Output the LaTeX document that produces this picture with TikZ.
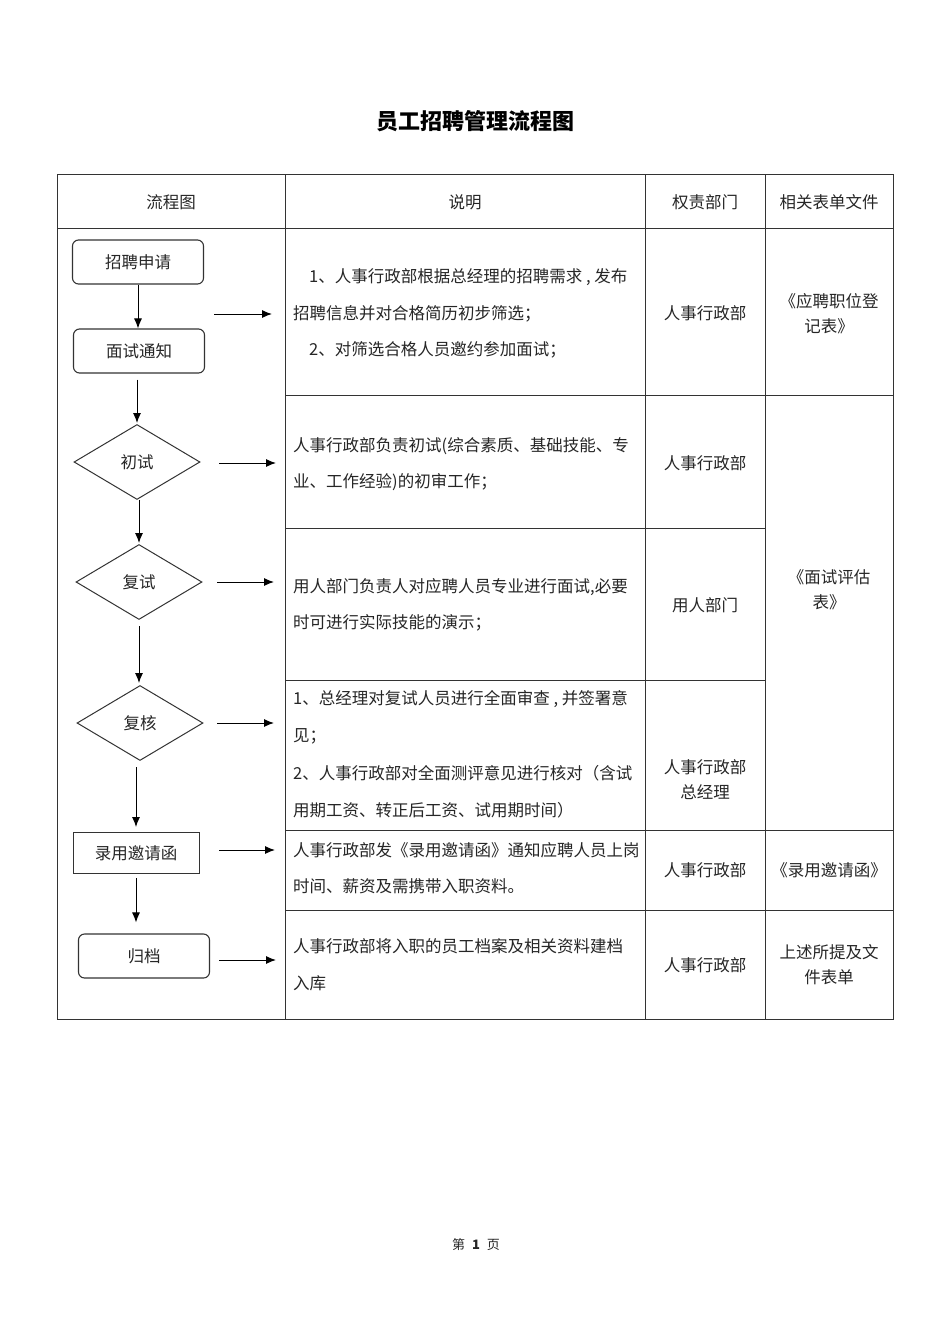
\documentclass[tikz,border=0pt]{standalone}
\usepackage{fontspec}
\setmainfont{Noto Sans CJK SC}
\usetikzlibrary{arrows.meta,shapes.geometric}
\newcommand\bodyfs{\fontsize{16.5pt}{25pt}\selectfont}
\begin{document}
\begin{tikzpicture}[x=1pt,y=-1pt,
  grid/.style={line width=0.9pt, draw=black!80},
  rbox/.style={draw=black!80, line width=1.1pt, rounded corners=6pt, minimum width=131pt, minimum height=44pt, inner sep=0, font=\bodyfs, text=black!85},
  sbox/.style={draw=black!80, line width=1pt, minimum width=126pt, minimum height=41pt, inner sep=0, font=\bodyfs, text=black!85},
  dia/.style={draw=black!80, line width=1pt, diamond, minimum width=126pt, minimum height=75pt, inner sep=0, font=\bodyfs, text=black!85},
  arr/.style={line width=1pt, draw=black, -{Latex[length=10pt,width=8pt]}},
  txt/.style={anchor=west, inner sep=0, font=\bodyfs, text=black!85},
  ctxt/.style={inner sep=0, font=\bodyfs, text=black!85, align=center},
]
\useasboundingbox (0,0) rectangle (950,1344);
\fill[white] (0,0) rectangle (950,1344);

% title and footer
\node[inner sep=0, font=\fontsize{22pt}{24pt}\selectfont\bfseries] (title) at (475,121) {员工招聘管理流程图};
\node[inner sep=0, font=\fontsize{13pt}{15pt}\selectfont, text=black!85] (foot) at (476,1245) {第\hspace{7pt}\textbf{1}\hspace{7pt}页};

% table grid
\draw[grid] (57,174) rectangle (893,1019);
\draw[grid] (285,174) -- (285,1019);
\draw[grid] (645,174) -- (645,1019);
\draw[grid] (765,174) -- (765,1019);
\draw[grid] (57,228) -- (893,228);
\draw[grid] (285,395) -- (893,395);
\draw[grid] (285,528) -- (765,528);
\draw[grid] (285,680) -- (765,680);
\draw[grid] (285,830) -- (893,830);
\draw[grid] (285,910) -- (893,910);

% header
\node[ctxt] (h1) at (171,202) {流程图};
\node[ctxt] (h2) at (465,202) {说明};
\node[ctxt] (h3) at (705,202) {权责部门};
\node[ctxt] (h4) at (829,202) {相关表单文件};

% flowchart nodes
\node[rbox] (n1) at (138,262) {招聘申请};
\node[rbox] (n2) at (139,351) {面试通知};
\node[dia]  (n3) at (137,462) {初试};
\node[dia]  (n4) at (139,582) {复试};
\node[dia]  (n5) at (140,723) {复核};
\node[sbox] (n6) at (136,853) {录用邀请函};
\node[rbox] (n7) at (144,956) {归档};

% vertical arrows
\draw[arr] (n1.south) -- (n1.south |- n2.north);
\draw[arr, shorten <=6pt, shorten >=1pt] (n2.south -| n3.north) -- (n3.north);
\draw[arr, shorten <=3pt, shorten >=1pt] (n3.south) -- (n3.south -| n4.north) -- (n4.north);
\draw[arr, shorten <=6pt, shorten >=2pt] (n4.south) -- (n4.south |- n5.north);
\draw[arr, shorten <=6pt, shorten >=5pt] (n5.south -| n6.north) -- (n6.north);
\draw[arr, shorten <=4pt, shorten >=11pt] (n6.south) -- (n6.south |- n7.north);

% horizontal arrows
\coordinate (a1s) at (214,314); \coordinate (a1e) at (272,314);
\coordinate (a2s) at (219,463); \coordinate (a2e) at (276,463);
\coordinate (a3s) at (217,582); \coordinate (a3e) at (274,582);
\coordinate (a4s) at (217,723); \coordinate (a4e) at (274,723);
\coordinate (a5s) at (219,850); \coordinate (a5e) at (275,850);
\coordinate (a6s) at (219,960); \coordinate (a6e) at (276,960);
\draw[arr] (a1s) -- (a1e);
\draw[arr] (a2s) -- (a2e);
\draw[arr] (a3s) -- (a3e);
\draw[arr] (a4s) -- (a4e);
\draw[arr] (a5s) -- (a5e);
\draw[arr] (a6s) -- (a6e);

% row 1
\node[txt] (d1a) at (309,277) {1、人事行政部根据总经理的招聘需求 , 发布};
\node[txt] (d1b) at (293,314) {招聘信息并对合格简历初步筛选；};
\node[txt] (d1c) at (309,350) {2、对筛选合格人员邀约参加面试；};
\node[ctxt] (p1) at (705,313) {人事行政部};
\node[ctxt] (f1) at (829,314) {《应聘职位登\\记表》};

% row 2
\node[txt] (d2a) at (293,446) {人事行政部负责初试(综合素质、基础技能、专};
\node[txt] (d2b) at (293,482) {业、工作经验)的初审工作；};
\node[ctxt] (p2) at (705,463) {人事行政部};

% row 3
\node[txt] (d3a) at (293,587) {用人部门负责人对应聘人员专业进行面试,必要};
\node[txt] (d3b) at (293,623) {时可进行实际技能的演示；};
\node[ctxt] (p3) at (705,605) {用人部门};
\node[ctxt] (f2) at (829,590) {《面试评估\\表》};

% row 4
\node[txt] (d4a) at (293,699) {1、总经理对复试人员进行全面审查 , 并签署意};
\node[txt] (d4b) at (293,736) {见；};
\node[txt] (d4c) at (293,773) {2、人事行政部对全面测评意见进行核对（含试};
\node[txt] (d4d) at (293,810) {用期工资、转正后工资、试用期时间）};
\node[ctxt] (p4) at (705,780) {人事行政部\\总经理};

% row 5
\node[txt] (d5a) at (293,850) {人事行政部发《录用邀请函》通知应聘人员上岗};
\node[txt] (d5b) at (293,886) {时间、薪资及需携带入职资料。};
\node[ctxt] (p5) at (705,870) {人事行政部};
\node[ctxt] (f3) at (829,870) {《录用邀请函》};

% row 6
\node[txt] (d6a) at (293,946) {人事行政部将入职的员工档案及相关资料建档};
\node[txt] (d6b) at (293,983) {入库};
\node[ctxt] (p6) at (705,965) {人事行政部};
\node[ctxt] (f4) at (829,965) {上述所提及文\\件表单};
\end{tikzpicture}
\end{document}
